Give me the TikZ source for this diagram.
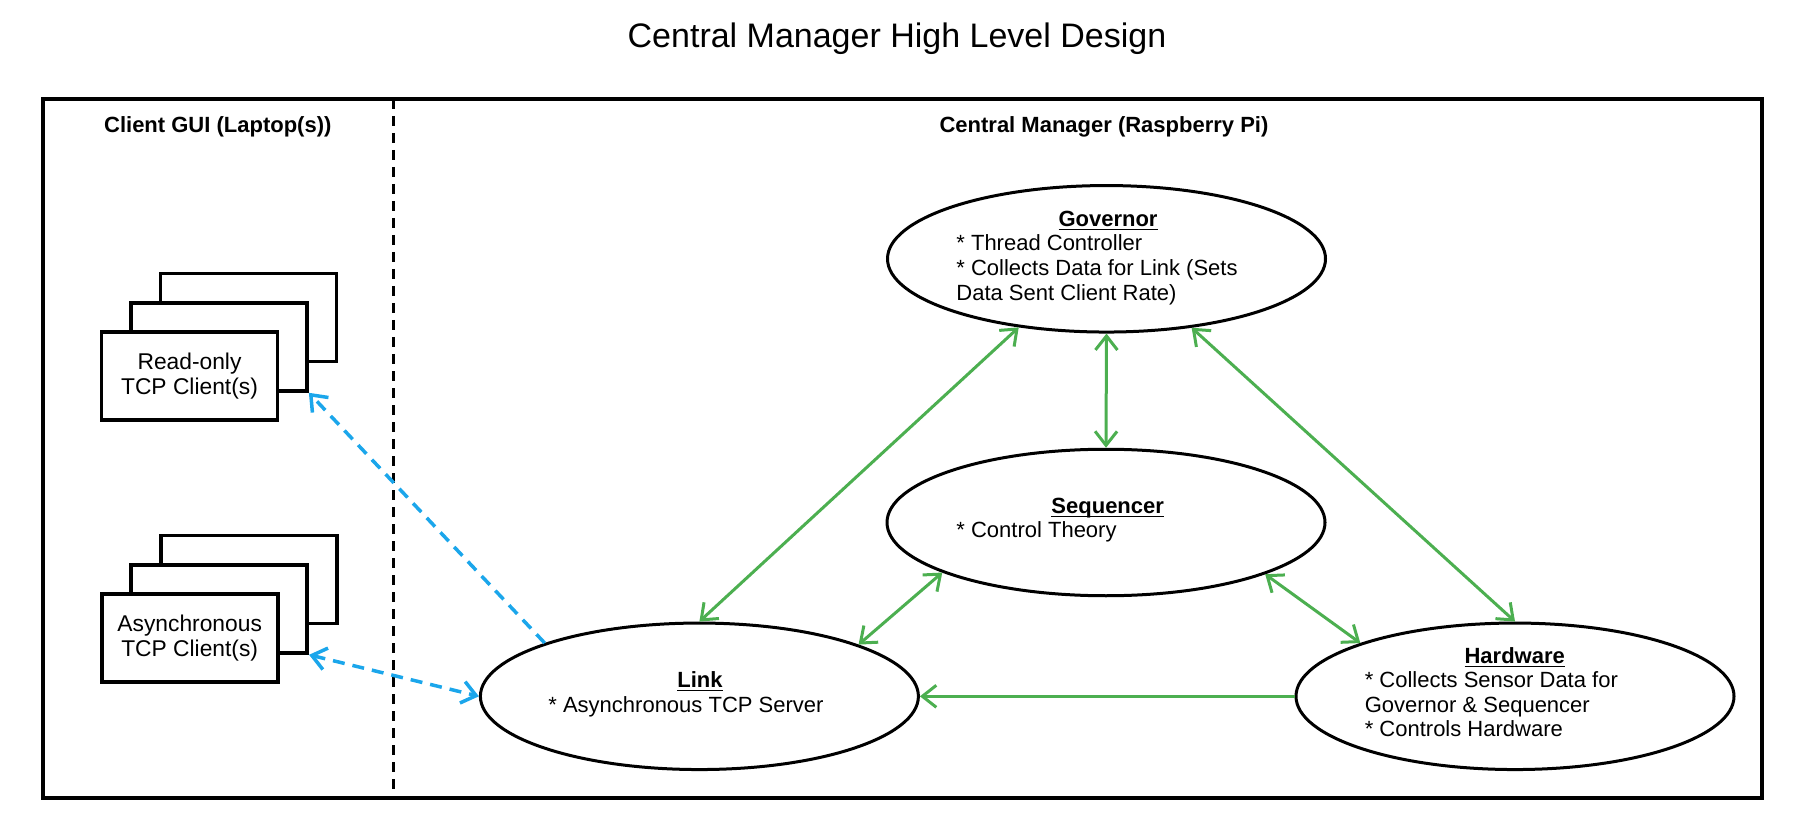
\documentclass[tikz,border=0pt]{standalone}
\usepackage{fontspec}
\setmainfont{Liberation Sans}
\usetikzlibrary{shapes.geometric,arrows.meta}
\definecolor{grn}{RGB}{76,175,80}
\definecolor{blu}{RGB}{27,166,235}
\newcommand\headul[1]{\underline{\smash{#1}}}
\begin{document}
\begin{tikzpicture}[x=0.5pt,y=-0.5pt,
  oval/.style={ellipse,draw,line width=1.5pt,minimum width=219pt,minimum height=73.25pt,inner sep=0pt},
  cbox/.style={rectangle,draw,line width=1.9pt,fill=white,minimum width=88pt,minimum height=44pt,inner sep=0pt,font=\fontsize{11.4}{12.25}\selectfont,align=center},
  body/.style={font=\fontsize{11}{12.25}\selectfont,inner sep=0pt,anchor=base west},
  head/.style={font=\fontsize{11}{12.25}\selectfont\bfseries,inner sep=0pt,anchor=base},
  tip/.tip={Straight Barb[length=7pt,width=11pt]},
  garrow/.style={draw=grn,line width=1.5pt},
  barrow/.style={draw=blu,line width=1.75pt,dash pattern=on 6pt off 4pt},
  frame/.style={draw,line width=1.75pt},
  divider/.style={draw,line width=1.5pt,dash pattern=on 5pt off 3.5pt}
]
\useasboundingbox (0,0) rectangle (1794,834);

% title
\node[font=\fontsize{17}{20}\selectfont,anchor=base,inner sep=0pt] (title) at (897,48) {Central Manager High Level Design};

% frame and divider
\draw[frame] (43,99) rectangle (1762,798);
\coordinate (dtop) at (393.5,99);
\coordinate (dbot) at (393.5,798);
\draw[divider] (dtop) -- (dbot);

\node[head] (cguil) at (217.8,132.5) {Client GUI (Laptop(s))};
\node[head] (cml) at (1104,132.5) {Central Manager (Raspberry Pi)};

% read-only client stack
\node[cbox] (rob) at (248.5,317.5) {};
\node[cbox] (rom) at (219,346.9) {};
\node[cbox] (rof) at (189.5,375.9) {Read-only\\TCP Client(s)};

% async client stack
\node[cbox] (asb) at (248.7,579.5) {};
\node[cbox] (asm) at (219.2,608.9) {};
\node[cbox] (asf) at (189.7,637.9) {Asynchronous\\TCP Client(s)};

% ellipses
\node[oval] (gov) at (1106.5,258.8) {};
\node[oval] (seq) at (1106,522.5) {};
\node[oval] (link) at (699.4,696.3) {};
\node[oval] (hw) at (1515,696.3) {};

% governor text
\node[head] (govh) at (1108,226.7) {\headul{Governor}};
\node[body] (gov1) at (956,251) {* Thread Controller};
\node[body] (gov2) at (956,276) {* Collects Data for Link (Sets};
\node[body] (gov3) at (956,300.7) {Data Sent Client Rate)};

% sequencer text
\node[head] (seqh) at (1107.7,513.3) {\headul{Sequencer}};
\node[body] (seq1) at (956,537.7) {* Control Theory};

% link text
\node[head] (linkh) at (700,687.3) {\headul{Link}};
\node[body] (link1) at (548,712.3) {* Asynchronous TCP Server};

% hardware text
\node[head] (hwh) at (1514.7,663.3) {\headul{Hardware}};
\node[body] (hw1) at (1364.4,687.3) {* Collects Sensor Data for};
\node[body] (hw2) at (1364.4,712.3) {Governor \& Sequencer};
\node[body] (hw3) at (1364.4,736.7) {* Controls Hardware};

% green connectors
\draw[garrow,tip-tip] (gov.218.9) -- (link.north);
\draw[garrow,tip-tip] (gov.south) -- (seq.north);
\draw[garrow,tip-tip] (gov.321.2) -- (hw.north);
\draw[garrow,tip-tip] (seq.197.9) -- (link.18);
\draw[garrow,tip-tip] (seq.342.4) -- (hw.161.5);
\draw[garrow,-tip] (hw.west) -- (link.east);

% blue connectors
\draw[barrow,-tip] (link.161.5) -- (rom.south east);
\draw[barrow,tip-tip] (asm.south east) -- (link.west);
\end{tikzpicture}
\end{document}
